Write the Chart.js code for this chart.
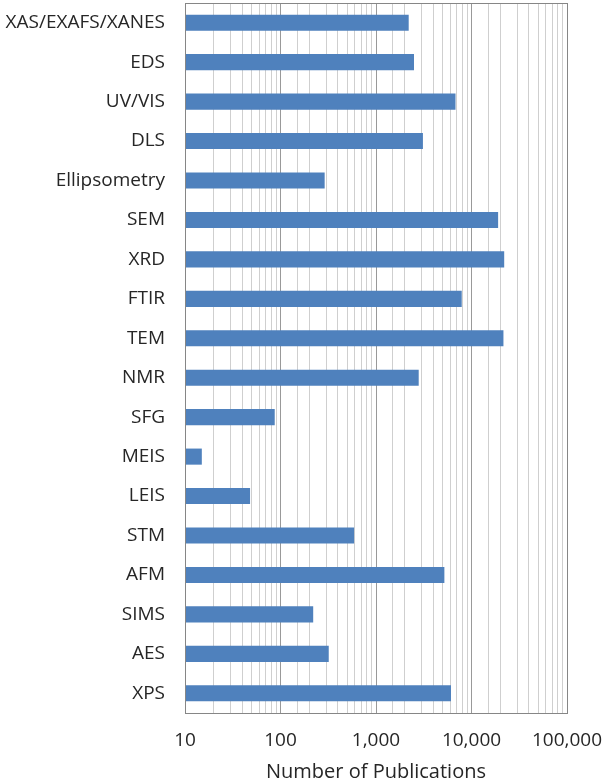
<!DOCTYPE html>
<html>
<head>
<meta charset="utf-8">
<script src="https://cdn.jsdelivr.net/npm/chart.js@4/dist/chart.umd.min.js"></script>
<style>
  html, body { margin: 0; padding: 0; background: #ffffff; }
  #wrap { width: 604px; height: 784px; }
</style>
</head>
<body>
<div id="wrap"><canvas id="c" width="604" height="784"></canvas></div>
<script>
const categories = ["XAS/EXAFS/XANES", "EDS", "UV/VIS", "DLS", "Ellipsometry", "SEM", "XRD", "FTIR", "TEM", "NMR", "SFG", "MEIS", "LEIS", "STM", "AFM", "SIMS", "AES", "XPS"];
const publications = [2200, 2500, 6800, 3100, 290, 19000, 22000, 7900, 21600, 2800, 87, 15, 48, 590, 5200, 220, 320, 6100];
const xTickLabels = { 10: "10", 100: "100", 1000: "1,000", 10000: "10,000", 100000: "100,000" };
const xAxisTitle = "Number of Publications";

const FONT = "'Open Sans', Lato, sans-serif";

const isDecade = v => {
  const l = Math.log10(v);
  return Math.abs(l - Math.round(l)) < 1e-9;
};

const boxPlugin = {
  id: 'box',
  afterDraw(chart) {
    const a = chart.chartArea, ctx = chart.ctx;
    ctx.save();
    ctx.strokeStyle = '#868686';
    ctx.lineWidth = 1;
    ctx.strokeRect(Math.round(a.left) + 0.5, Math.round(a.top) + 0.5, Math.round(a.right - a.left), Math.round(a.bottom - a.top));
    ctx.restore();
  }
};

const zeroPad = s => { s.paddingTop = 0; s.paddingBottom = 0; s.paddingLeft = 0; s.paddingRight = 0; };

new Chart(document.getElementById('c'), {
  type: 'bar',
  data: {
    labels: categories,
    datasets: [{
      data: publications,
      backgroundColor: '#4f81bd',
      borderWidth: 0,
      barPercentage: 0.8,
      categoryPercentage: 0.51
    }]
  },
  options: {
    indexAxis: 'y',
    responsive: false,
    animation: false,
    layout: { padding: { left: 0, right: 37, top: 3, bottom: 0 } },
    plugins: { legend: { display: false }, tooltip: { enabled: false } },
    scales: {
      x: {
        type: 'logarithmic',
        min: 10,
        max: 100000,
        border: { display: false },
        grid: {
          drawTicks: false,
          color: ctx => (ctx.tick && isDecade(ctx.tick.value)) ? '#999999' : '#cfcfcf',
          lineWidth: 1
        },
        ticks: {
          autoSkip: false,
          maxRotation: 0,
          padding: 16,
          color: '#262626',
          font: { family: FONT, size: 19 },
          callback: v => (xTickLabels[v] !== undefined ? xTickLabels[v] : '')
        },
        title: {
          display: true,
          text: xAxisTitle,
          color: '#262626',
          font: { family: FONT, size: 20 },
          padding: { top: 4, bottom: 0 }
        },
        afterFit: s => { s.height = 71; zeroPad(s); }
      },
      y: {
        border: { display: false },
        grid: { display: false, drawTicks: false },
        ticks: {
          padding: 20,
          color: '#262626',
          font: { family: FONT, size: 19 },
          autoSkip: false
        },
        afterFit: s => { s.width = 185; zeroPad(s); }
      }
    }
  },
  plugins: [boxPlugin]
});
</script>
</body>
</html>
